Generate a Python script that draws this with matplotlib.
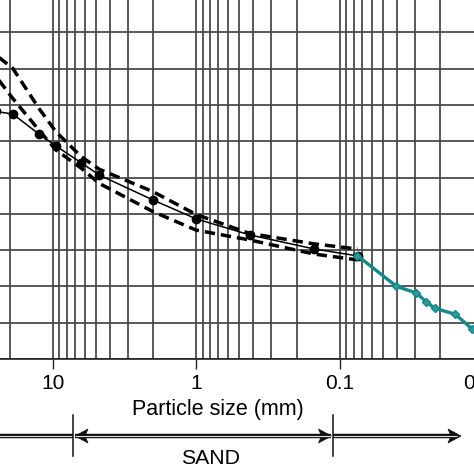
import numpy as np
import matplotlib
matplotlib.use("Agg")
import matplotlib.pyplot as plt
from matplotlib import ticker
from matplotlib.patches import Polygon

plt.rcParams['font.family'] = ['Liberation Sans', 'DejaVu Sans']

# ---- data (particle size in mm, percent passing) ----
sieve_mm = [25, 19, 12.5, 9.5, 6.3, 4.75, 2.0, 1.0, 0.425, 0.15, 0.075]
mean_pass = [68.2, 67.5, 62.0, 58.7, 54.0, 50.7, 43.8, 38.6, 34.2, 30.3, 28.4]
upper_pass = [83.8, 80.1, 69.1, 62.6, 55.7, 52.3, 46.1, 39.8, 34.6, 31.7, 30.3]
lower_pass = [78.0, 71.8, 63.1, 57.6, 52.5, 48.4, 40.6, 35.5, 32.8, 28.9, 27.3]

fine_mm = [0.0754, 0.0402, 0.0293, 0.0250, 0.0218, 0.0156, 0.0119]
fine_pass = [28.5, 20.0, 18.2, 15.8, 14.0, 12.3, 8.2]

xtick_vals = [10, 1, 0.1, 0.01]

W = 474
fig = plt.figure(figsize=(4.74, 4.74), dpi=100)
# axes extend past the visible figure (cropped chart)
ax = fig.add_axes([-90.8 / W, 115 / W, 717.5 / W, 363 / W])
ax.set_xscale('log')
ax.set_xlim(100, 0.001)
ax.set_ylim(0, 100)

ax.xaxis.set_major_locator(ticker.FixedLocator(xtick_vals))
ax.xaxis.set_major_formatter(ticker.FuncFormatter(lambda v, _: f'{v:g}'))
ax.xaxis.set_minor_locator(ticker.LogLocator(base=10, subs=np.arange(2, 10), numticks=50))
ax.xaxis.set_minor_formatter(ticker.NullFormatter())
ax.yaxis.set_major_locator(ticker.MultipleLocator(10))
ax.set_yticklabels([])
ax.tick_params(axis='x', which='major', length=7, width=1, direction='out',
               labelsize=15, pad=4, color='#222222')
ax.tick_params(axis='x', which='minor', length=0)
ax.tick_params(axis='y', length=0)
ax.grid(True, which='both', axis='both', color='#454545', lw=1.25)
ax.set_axisbelow(True)
for s in ax.spines.values():
    s.set_color('#222222')
    s.set_linewidth(1.2)

ax.plot(sieve_mm, upper_pass, color='black', lw=2.5, ls=(0, (3.0, 1.7)), zorder=3)
ax.plot(sieve_mm, lower_pass, color='black', lw=2.5, ls=(0, (3.0, 1.7)), zorder=3)
ax.plot(sieve_mm, mean_pass, color='black', lw=1.1, marker='o', ms=6, zorder=4)
ax.plot(fine_mm, fine_pass, color='#14898a', lw=2.4, marker='D', ms=4,
        mfc='#2a9c9c', mec='#14898a', zorder=5)

# ---- overlay for label and soil-class arrows ----
ov = fig.add_axes([0, 0, 1, 1])
ov.set_xlim(0, W)
ov.set_ylim(W, 0)
ov.axis('off')

ov.text(217.5, 409, 'Particle size (mm)', fontsize=15.5, ha='center', va='center')
ov.text(211, 459, 'SAND', fontsize=15.3, ha='center', va='center')

ya = 436

def dline(x0, x1):
    ov.plot([x0, x1], [ya, ya], color='#111111', lw=3.2, solid_capstyle='butt')
    ov.plot([x0, x1], [ya, ya], color='#dddddd', lw=0.8, solid_capstyle='butt')

def head(tip, direction):
    L, H, notch = 13, 7, 3
    d = direction
    pts = [(tip, ya), (tip - d * L, ya - H), (tip - d * (L - notch), ya),
           (tip - d * L, ya + H)]
    ov.add_patch(Polygon(pts, closed=True, color='#111111', lw=0.5))

dline(-2, 73)
dline(75, 331)
dline(333, 457)
head(75, -1)
head(331.5, 1)
head(461, 1)
for xb in (73, 333):
    ov.plot([xb, xb], [415, 456], color='#111111', lw=1.1)

fig.savefig('out.png', dpi=100)
